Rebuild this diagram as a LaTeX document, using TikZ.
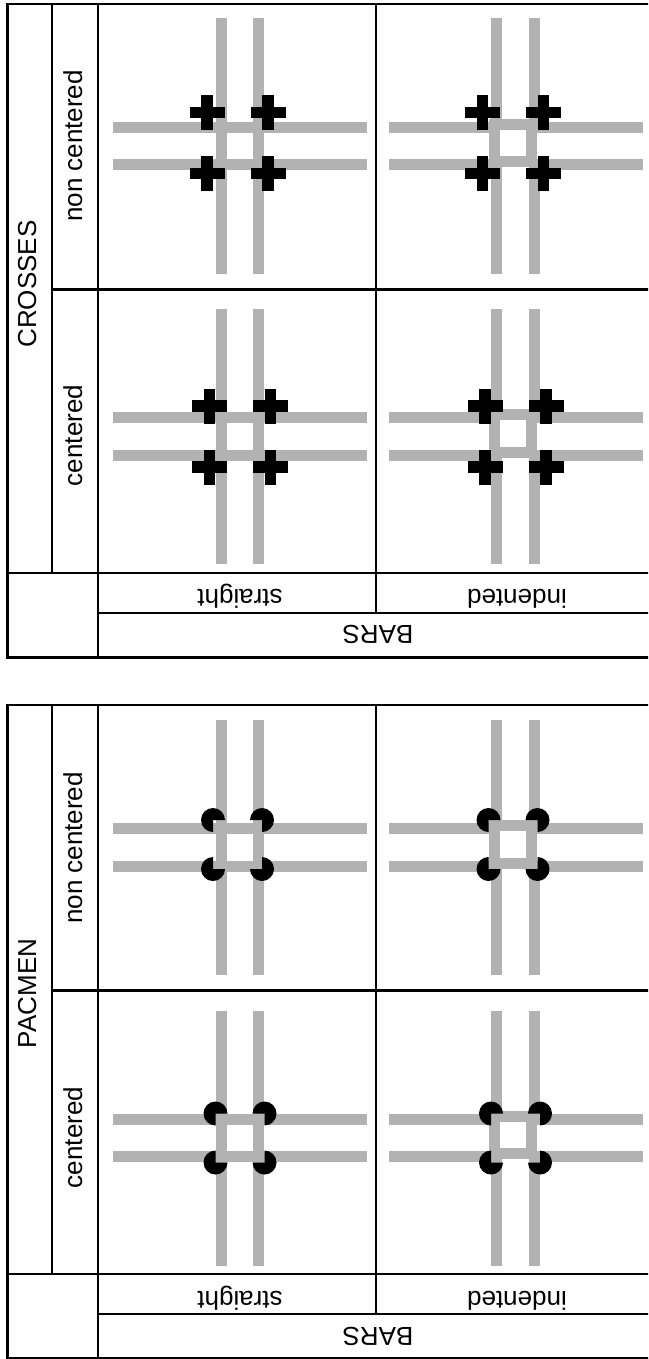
\documentclass[tikz,border=0pt]{standalone}
\usepackage{fontspec}
\setmainfont{Liberation Sans}
\definecolor{bargray}{RGB}{178,178,178}
\tikzset{
  frame/.style={line width=2.7pt, black},
  barline/.style={line width=11pt, bargray, line cap=butt, line join=miter},
  lbl/.style={font=\fontsize{26}{30}\selectfont, inner sep=0pt, anchor=base},
  inducer/.style={fill=black},
}
\newcommand\tableframe{%
  \draw[frame] (7.5,4) rectangle (662,657.5);
  \draw[frame] (52,4) -- (52,573);
  \draw[frame] (98,4) -- (98,657.5);
  \draw[frame] (376,4) -- (376,613);
  \draw[frame] (52,289.5) -- (662,289.5);
  \draw[frame] (7.5,573) -- (662,573);
  \draw[frame] (98,613) -- (662,613);
}
\newcommand\barstraight[2]{%
  \begin{scope}[shift={(#1,#2)}]
    \draw[barline] (-127,-18.75) -- (127,-18.75);
    \draw[barline] (-127,18.75) -- (127,18.75);
    \draw[barline] (-18.75,-127.5) -- (-18.75,127.5);
    \draw[barline] (18.75,-127.5) -- (18.75,127.5);
  \end{scope}}
\newcommand\barindent[2]{%
  \begin{scope}[shift={(#1,#2)}]
    \draw[barline] (-21.25,-21.75) rectangle (16.25,15.75);
    \draw[barline] (-127,-18.75) -- (-21.25,-18.75);
    \draw[barline] (16.25,-18.75) -- (127,-18.75);
    \draw[barline] (-127,18.75) -- (-21.25,18.75);
    \draw[barline] (16.25,18.75) -- (127,18.75);
    \draw[barline] (-18.75,-127.5) -- (-18.75,-21.75);
    \draw[barline] (-18.75,15.75) -- (-18.75,127.5);
    \draw[barline] (18.75,-127.5) -- (18.75,-21.75);
    \draw[barline] (18.75,15.75) -- (18.75,127.5);
  \end{scope}}
\newcommand\crossgrid[2]{%
  \begin{scope}[shift={(#1,#2)}]
    \foreach \sx in {-30.5,30.5} \foreach \sy in {-30.5,30.5} {
      \fill[inducer] (\sx-17.5,\sy-5.8) rectangle (\sx+17.5,\sy+5.8);
      \fill[inducer] (\sx-5.8,\sy-17.5) rectangle (\sx+5.8,\sy+17.5);
    }
  \end{scope}}
\newcommand\pacgrid[2]{%
  \begin{scope}[shift={(#1,#2)}]
    \fill[inducer] (-24.5,-24.5) -- ++(90:12) arc[start angle=90, end angle=360, radius=12] -- cycle;
    \fill[inducer] (24.5,-24.5) -- ++(180:12) arc[start angle=180, end angle=450, radius=12] -- cycle;
    \fill[inducer] (-24.5,24.5) -- ++(0:12) arc[start angle=0, end angle=270, radius=12] -- cycle;
    \fill[inducer] (24.5,24.5) -- ++(270:12) arc[start angle=270, end angle=540, radius=12] -- cycle;
  \end{scope}}
\begin{document}
\begin{tikzpicture}[x=1pt,y=-1pt]
\useasboundingbox (0,0) rectangle (648,1359);
\clip (0,0) rectangle (648,1359);
\fill[white] (0,0) rectangle (648,1359);

% ---------- CROSSES table ----------
\tableframe
\barstraight{240}{146}
\crossgrid{237.5}{143}
\barindent{515.5}{146}
\crossgrid{513}{143}
\barstraight{240}{436.5}
\crossgrid{240}{436.5}
\barindent{515.5}{436.5}
\crossgrid{515.5}{436.5}
\node[lbl, rotate=90] (crosses) at (36,284) {CROSSES};
\node[lbl, rotate=90] (ncA) at (82,146) {non centered};
\node[lbl, rotate=90] (cA) at (82,435.5) {centered};
\node[lbl, rotate=180] (stA) at (240,589) {straight};
\node[lbl, rotate=180] (inA) at (517,589) {indented};
\node[lbl, rotate=180] (barsA) at (378,625.5) {BARS};

% ---------- PACMEN table ----------
\begin{scope}[shift={(0,701)}]
\tableframe
\end{scope}
\barstraight{240}{847.5}
\pacgrid{237.5}{844.5}
\barindent{515.5}{847.5}
\pacgrid{513}{844.5}
\barstraight{240}{1138}
\pacgrid{240}{1138}
\barindent{515.5}{1138}
\pacgrid{515.5}{1138}
\node[lbl, rotate=90] (pacmen) at (36,993.5) {PACMEN};
\node[lbl, rotate=90] (ncB) at (82,848) {non centered};
\node[lbl, rotate=90] (cB) at (82,1137.5) {centered};
\node[lbl, rotate=180] (stB) at (240,1291) {straight};
\node[lbl, rotate=180] (inB) at (517,1291) {indented};
\node[lbl, rotate=180] (barsB) at (378,1327.5) {BARS};
\end{tikzpicture}
\end{document}
